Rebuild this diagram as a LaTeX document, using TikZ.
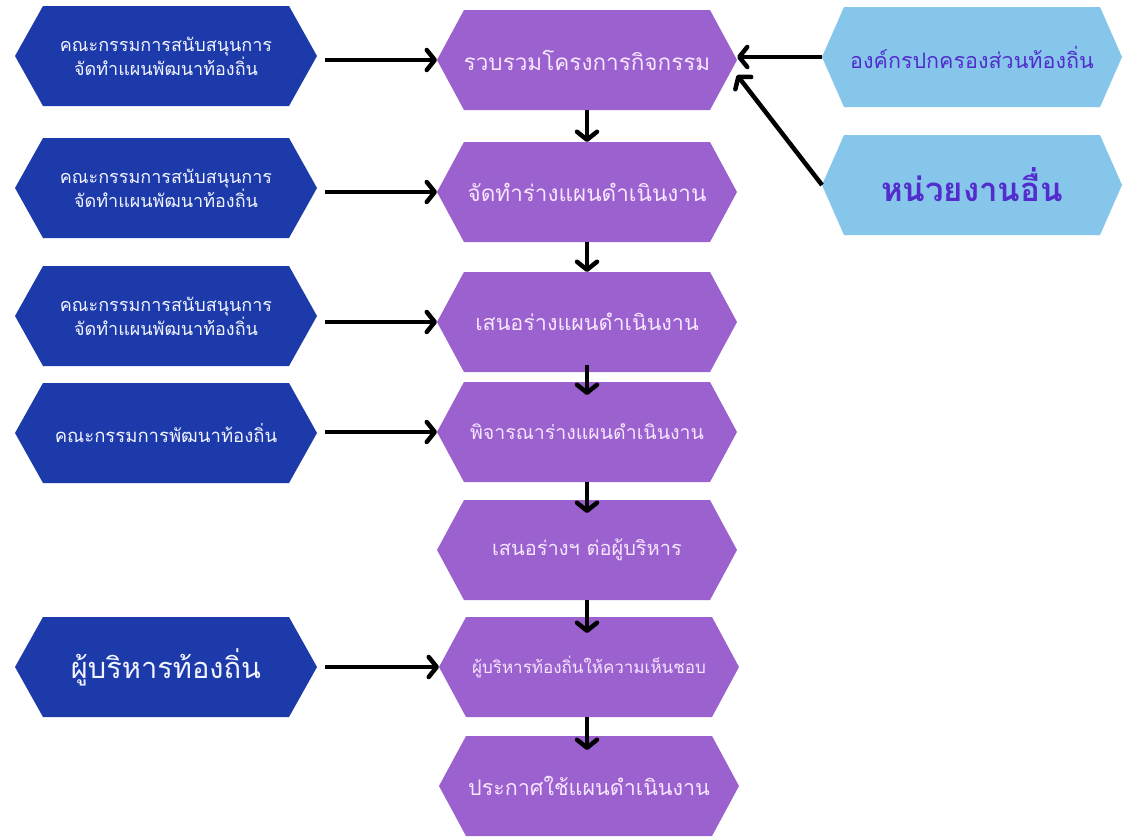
\documentclass[tikz,border=0pt]{standalone}
\usepackage{fontspec}
\newfontfamily\thaifont[Script=Thai]{Loma}
\usetikzlibrary{arrows.meta}
\definecolor{dblue}{RGB}{28,58,170}
\definecolor{purp}{RGB}{155,97,206}
\definecolor{lblue}{RGB}{135,198,235}
\definecolor{ptext}{RGB}{246,230,255}
\definecolor{btext}{RGB}{82,44,204}
\definecolor{wtext}{RGB}{242,244,255}
\tikzset{
  hexbox/.style n args={2}{minimum width=300pt, minimum height=100pt,
    inner sep=0pt, outer sep=0pt, align=center,
    path picture={\fill[#1]
      ([xshift=#2]path picture bounding box.north west) --
      ([xshift=-#2]path picture bounding box.north east) --
      (path picture bounding box.east) --
      ([xshift=-#2]path picture bounding box.south east) --
      ([xshift=#2]path picture bounding box.south west) --
      (path picture bounding box.west) -- cycle;}},
  leftbox/.style={hexbox={dblue}{28pt}, minimum width=302pt, text=wtext},
  stepbox/.style={hexbox={purp}{27pt}, text=ptext},
  srcbox/.style={hexbox={lblue}{22pt}, text=btext},
  arr/.style={line width=4.5pt, -{Straight Barb[length=8pt,width=20pt,line cap=round,line join=round]}},
}
\begin{document}
\begin{tikzpicture}[x=1pt,y=-1pt]
\useasboundingbox (0,0) rectangle (1122,839);
\fill[white] (0,0) rectangle (1122,839);
% left column
\node[leftbox, font=\thaifont\fontsize{18}{24}\selectfont] (L1) at (166,56) {คณะกรรมการสนับสนุนการ\\จัดทำแผนพัฒนาท้องถิ่น};
\node[leftbox, font=\thaifont\fontsize{18}{24}\selectfont] (L2) at (166,188) {คณะกรรมการสนับสนุนการ\\จัดทำแผนพัฒนาท้องถิ่น};
\node[leftbox, font=\thaifont\fontsize{18}{24}\selectfont] (L3) at (166,316) {คณะกรรมการสนับสนุนการ\\จัดทำแผนพัฒนาท้องถิ่น};
\node[leftbox, font=\thaifont\fontsize{18.5}{24}\selectfont] (L4) at (166,433) {คณะกรรมการพัฒนาท้องถิ่น};
\node[leftbox, font=\thaifont\fontsize{29}{34}\selectfont] (L6) at (166,667) {ผู้บริหารท้องถิ่น};
% middle column
\node[stepbox, font=\thaifont\fontsize{22.5}{26}\selectfont] (P1) at (587,60) {รวบรวมโครงการกิจกรรม};
\node[stepbox, font=\thaifont\fontsize{22.5}{26}\selectfont] (P2) at (587,192) {จัดทำร่างแผนดำเนินงาน};
\node[stepbox, font=\thaifont\fontsize{21.5}{26}\selectfont] (P3) at (587,322) {เสนอร่างแผนดำเนินงาน};
\node[stepbox, font=\thaifont\fontsize{19.5}{24}\selectfont] (P4) at (587,432) {พิจารณาร่างแผนดำเนินงาน};
\node[stepbox, font=\thaifont\fontsize{20}{24}\selectfont] (P5) at (587,550) {เสนอร่างฯ ต่อผู้บริหาร};
\node[stepbox, font=\thaifont\fontsize{17}{24}\selectfont] (P6) at (589,667) {ผู้บริหารท้องถิ่นให้ความเห็นชอบ};
\node[stepbox, font=\thaifont\fontsize{21.5}{26}\selectfont] (P7) at (589,786) {ประกาศใช้แผนดำเนินงาน};
% right column
\node[srcbox, font=\thaifont\fontsize{21.5}{26}\selectfont] (B1) at (972,57) {องค์กรปกครองส่วนท้องถิ่น};
\node[srcbox, font=\thaifont\bfseries\fontsize{33}{38}\selectfont] (B2) at (972,185) {หน่วยงานอื่น};
% arrows from left
\draw[arr] ([xshift=8pt]L1.east |- P1.west) -- (P1.west);
\draw[arr] ([xshift=8pt]L2.east |- P2.west) -- (P2.west);
\draw[arr] ([xshift=8pt]L3.east |- P3.west) -- (P3.west);
\draw[arr] ([xshift=8pt]L4.east |- P4.west) -- (P4.west);
\draw[arr] ([xshift=8pt]L6.east) -- (P6.west);
% arrows down
\draw[arr] (P1.south) -- (P2.north);
\draw[arr] (P2.south) -- (P3.north);
\draw[arr] ([yshift=7pt]P3.south) -- ([yshift=-13pt]P4.north);
\draw[arr] (P4.south) -- ([yshift=-13pt]P5.north);
\draw[arr] (P5.south) -- ([yshift=-16pt]P6.north -| P5.south);
\draw[arr] (P6.south -| P5.south) -- ([yshift=-14pt]P7.north -| P5.south);
% arrows from right
\draw[arr] (B1.west) -- (B1.west -| P1.east);
\draw[arr] (B2.west) -- ([yshift=-15pt]P1.east);
\end{tikzpicture}
\end{document}
